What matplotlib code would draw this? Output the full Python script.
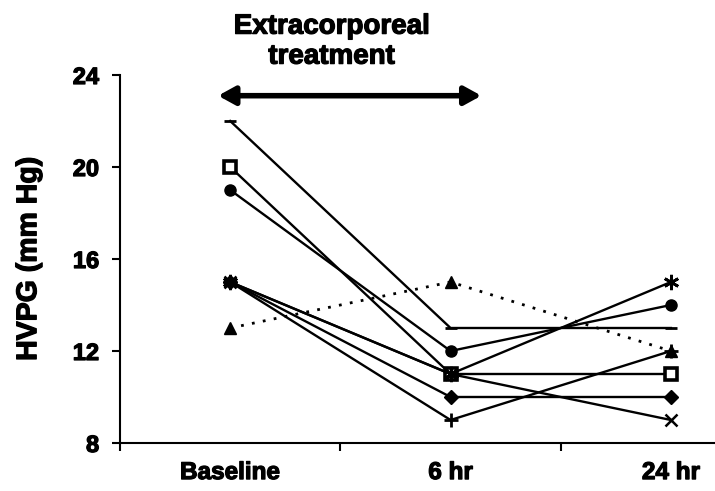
import matplotlib
matplotlib.use("Agg")
import matplotlib.pyplot as plt
import matplotlib.patheffects as pe

plt.rcParams['font.family'] = ['Liberation Sans', 'DejaVu Sans']

categories = ["Baseline", "6 hr", "24 hr"]
y_ticks = [8, 12, 16, 20, 24]

dash_series = [22, 13, 13]
square_series = [20, 11, 11]
circle_series = [19, 12, 14]
asterisk_series = [15, 11, 15]
diamond_series = [15, 10, 10]
plus_series = [15, 9, 12]
x_series = [15, 11, 9]
triangle_series = [13, 15, 12]

heavy = [pe.withStroke(linewidth=0.9, foreground='black')]

fig = plt.figure(figsize=(7.15, 4.91), dpi=100)
ax = fig.add_axes([120/715, 48/491, 595/715, 368/491])

xs = list(range(len(categories)))
lw = 1.7
k = dict(color='black', lw=lw, clip_on=False)
ax.plot(xs, dash_series, marker='_', ms=9, mew=2, **k)
ax.plot(xs, square_series, marker='s', ms=8, mfc='white', mec='black', mew=2.6, **k)
ax.plot(xs, circle_series, marker='o', ms=8, **k)
ax.plot(xs, asterisk_series, marker=(6, 2, 0), ms=11, mew=2, **k)
ax.plot(xs, diamond_series, marker='D', ms=7, **k)
ax.plot(xs, plus_series, marker='+', ms=10, mew=2, **k)
ax.plot(xs, x_series, marker='x', ms=8, mew=1.8, **k)
ax.plot(xs, triangle_series, marker='^', ms=8, color='black', lw=2, ls=(0, (1, 3)), clip_on=False)

ax.set_xlim(-0.5, 2.2)
ax.set_ylim(8, 24)
ax.set_yticks(y_ticks)
ax.set_yticklabels([str(v) for v in y_ticks], fontsize=17, fontweight='bold')
ax.set_xticks([-0.5, 0.5, 1.5])
ax.set_xticklabels([])
ax.set_xticks(xs, minor=True)
ax.set_xticklabels(categories, minor=True, fontsize=17.5, fontweight='bold')
ax.tick_params(axis='x', which='minor', length=0, pad=13)
ax.tick_params(axis='x', which='major', length=6, width=1.5, direction='out')
ax.tick_params(axis='y', length=6, width=1.5, direction='out', pad=9)
for lab in ax.get_yticklabels() + ax.get_xticklabels(minor=True):
    lab.set_path_effects(heavy)
for s in ['top', 'right']:
    ax.spines[s].set_visible(False)
for s in ['left', 'bottom']:
    ax.spines[s].set_linewidth(1.5)

ylab = ax.set_ylabel("HVPG (mm Hg)", fontsize=20.5, fontweight='bold', labelpad=22)
ylab.set_path_effects(heavy)

ax.annotate('', xy=(-0.055, 23.1), xytext=(1.14, 23.1),
            arrowprops=dict(arrowstyle='<|-|>,head_length=1.0,head_width=0.55',
                            color='black', lw=4, shrinkA=0, shrinkB=0),
            annotation_clip=False)
t = ax.text(0.46, 25.45, "Extracorporeal\ntreatment", ha='center', va='center',
            fontsize=20, fontweight='bold', linespacing=1.2)
t.set_path_effects(heavy)

fig.savefig("out.png", dpi=100)
